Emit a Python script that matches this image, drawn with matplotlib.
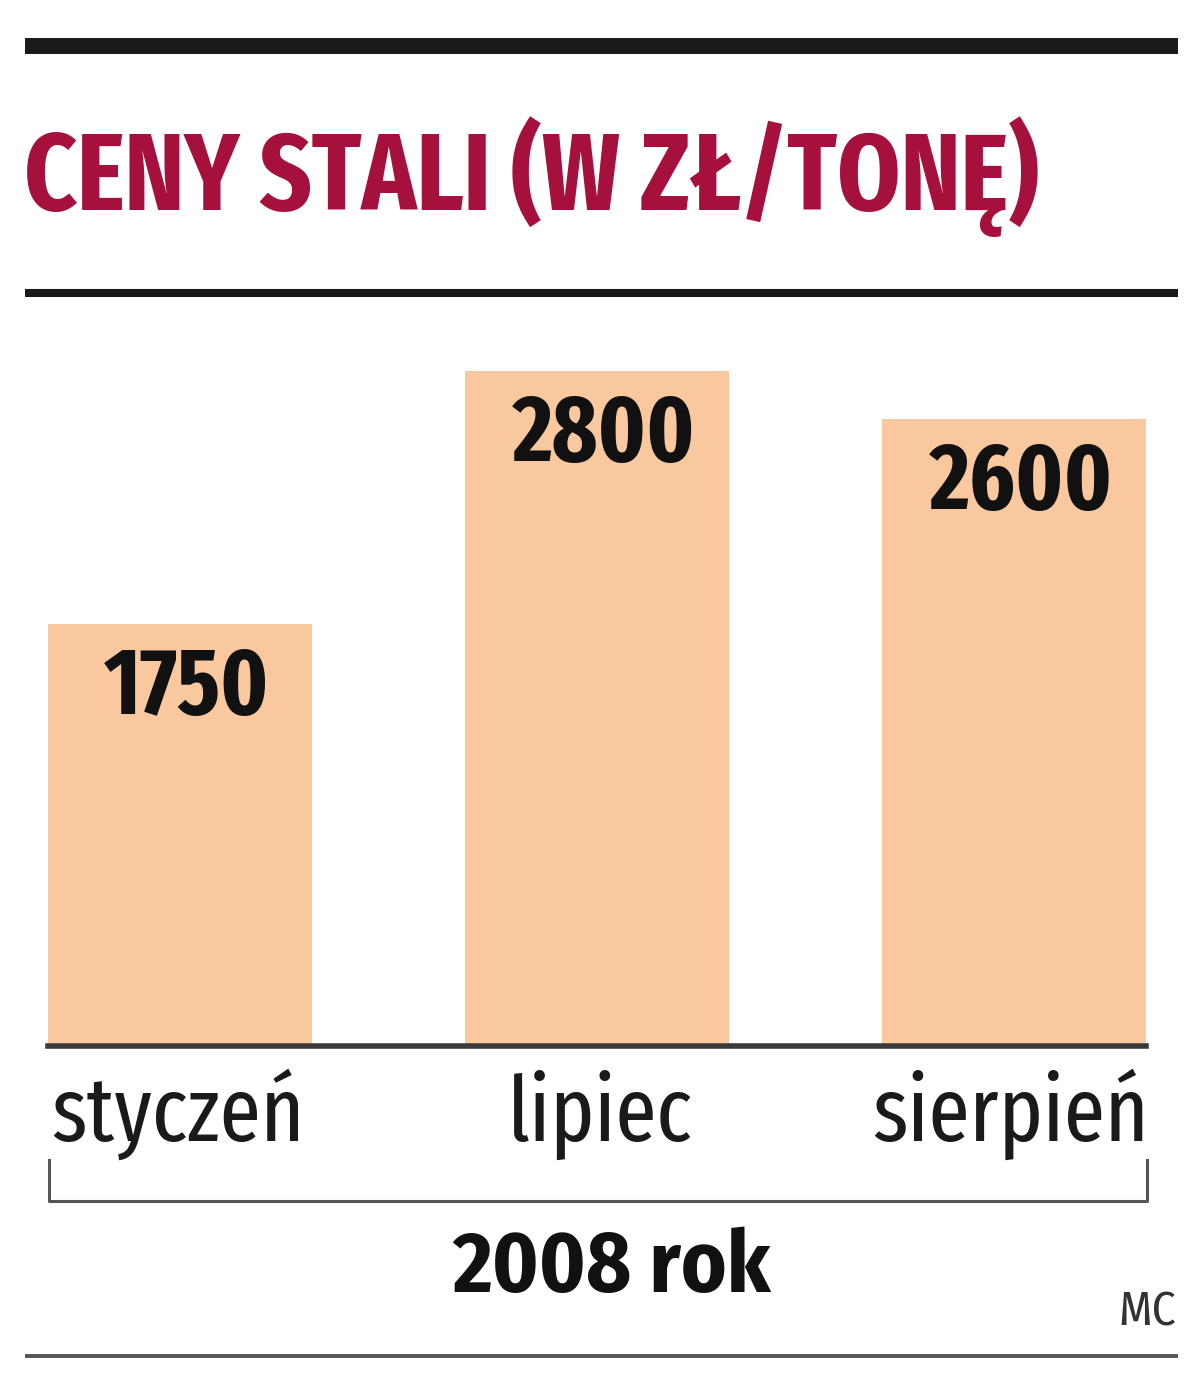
import matplotlib
matplotlib.use("Agg")
import matplotlib.pyplot as plt

# dane: ceny stali w zł/tonę, 2008 rok
months = ["styczeń", "lipiec", "sierpień"]
prices = [1750, 2800, 2600]
title = "CENY STALI (W ZŁ/TONĘ)"
period = "2008 rok"
source = "MC"

plt.rcParams['font.family'] = ['Fira Sans Condensed', 'DejaVu Sans']
plt.rcParams['font.stretch'] = 'condensed'
NARROW = ['Fira Sans Extra Condensed', 'Fira Sans Condensed', 'DejaVu Sans']

BAR = "#f9c89f"
RED = "#a6103d"
W, H = 1200, 1384

fig = plt.figure(figsize=(W / 100, H / 100), dpi=100)

# overlay in pixel coordinates for the decorations
bg = fig.add_axes([0, 0, 1, 1])
bg.set_xlim(0, W)
bg.set_ylim(H, 0)
bg.axis("off")

bg.plot([25, 1178], [46, 46], color="#1a1a1a", lw=11.5, solid_capstyle="butt")
bg.plot([25, 1178], [293, 293], color="#1a1a1a", lw=5.8, solid_capstyle="butt")
bg.plot([25, 1178], [1356, 1356], color="#555555", lw=2.8, solid_capstyle="butt")
bg.text(24, 210, title, color=RED, fontsize=79, fontweight="bold",
        family=NARROW, ha="left", va="baseline")

# bracket under the months
bg.plot([49, 49, 1147, 1147], [1160, 1201, 1201, 1160], color="#555555",
        lw=2.2)
bg.text(612, 1292, period, color="#111111", fontsize=62, fontweight="bold",
        ha="center", va="baseline")
bg.text(1176, 1326, source, color="#333333", fontsize=34, ha="right",
        va="baseline")

# bar chart
ax_left, ax_right = 48, 1146
ax_bottom, ax_top = 1046, 330
ax = fig.add_axes([ax_left / W, 1 - ax_bottom / H,
                   (ax_right - ax_left) / W, (ax_bottom - ax_top) / H])
x = list(range(len(months)))
width = 0.633
ax.bar(x, prices, width=width, color=BAR)
ax.set_xlim(-width / 2, len(months) - 1 + width / 2)
ax.set_ylim(0, max(prices) * (ax_bottom - ax_top) / 675)

for xi, v in zip(x, prices):
    ax.annotate(f"{v}", xy=(xi, v), xytext=(5, -47), textcoords="offset points",
                ha="center", va="center", fontsize=68, fontweight="bold",
                family=NARROW, color="#111111")

has = ["left", "center", "right"]
xs = [-width / 2, 1, len(months) - 1 + width / 2]
for xi, lab, ha in zip(xs, months, has):
    ax.annotate(lab, xy=(xi, 0), xytext=(2, -68), textcoords="offset points",
                ha=ha, va="baseline", fontsize=65, color="#1a1a1a",
                family=NARROW, annotation_clip=False)

for s in ["top", "left", "right"]:
    ax.spines[s].set_visible(False)
ax.spines["bottom"].set_color("#3a3a3a")
ax.spines["bottom"].set_linewidth(4)
ax.set_xticks([])
ax.set_yticks([])
ax.patch.set_alpha(0)

fig.savefig("out.png", dpi=100)
